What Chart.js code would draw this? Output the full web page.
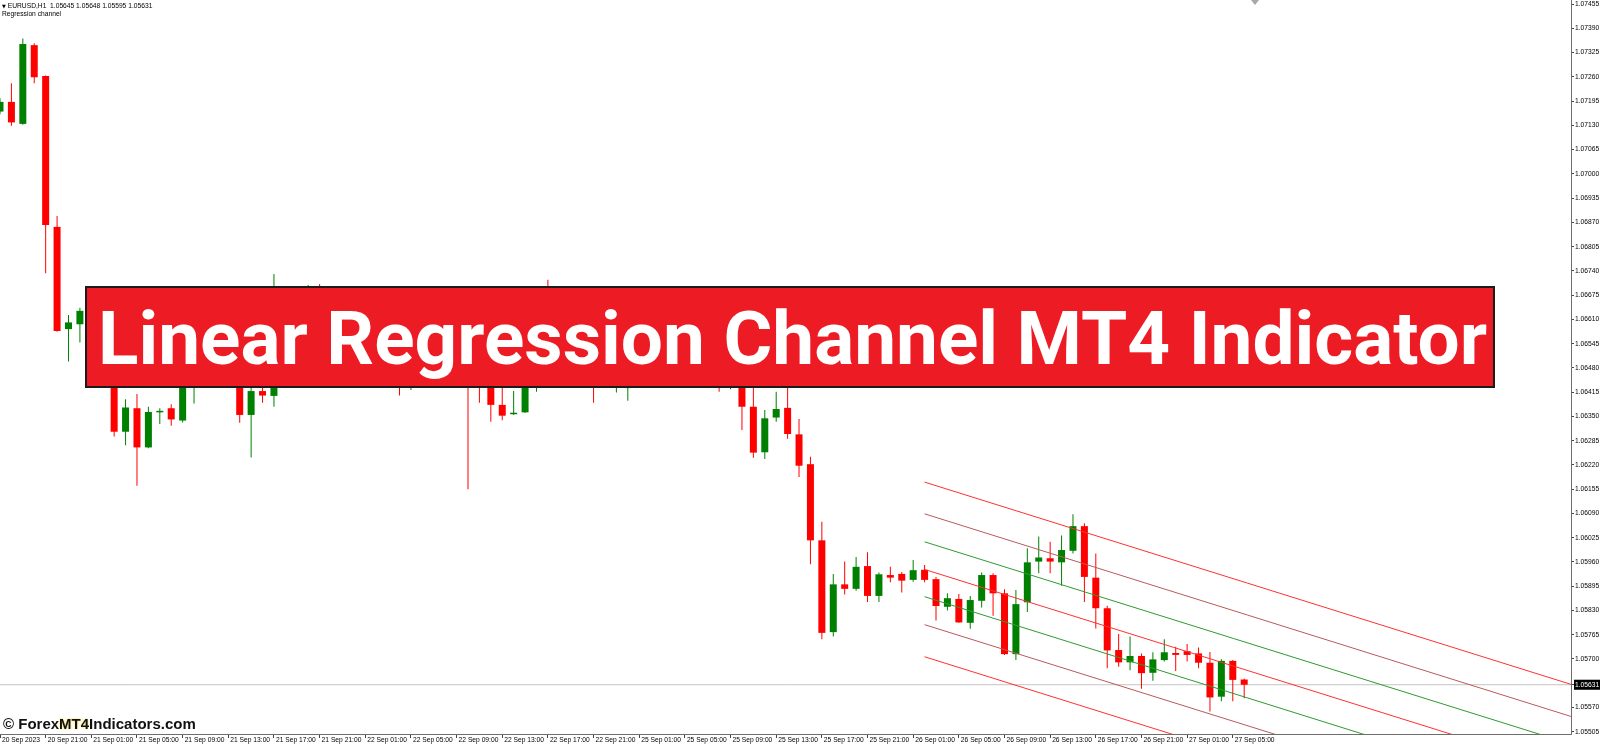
<!DOCTYPE html>
<html><head><meta charset="utf-8">
<script src="https://cdn.jsdelivr.net/npm/chart.js@4.4.1/dist/chart.umd.min.js"></script>
<style>
html,body{margin:0;padding:0;background:#fff;}
#wrap{position:relative;width:1600px;height:745px;overflow:hidden;background:#fff;}
canvas{position:absolute;left:0;top:0;}
.small{position:absolute;font-family:'Liberation Sans',Arial,sans-serif;font-size:6.7px;line-height:10px;color:#000;white-space:pre;}
.tri{font-size:5px;font-family:'DejaVu Sans',sans-serif;}
#banner{position:absolute;left:85px;top:286px;width:1410px;height:102px;box-sizing:border-box;background:#ED1C24;border:2px solid #1b1b1b;}
#svg{position:absolute;left:0;top:0;}
#wm{position:absolute;left:3px;top:716px;font:bold 15px 'Liberation Sans',Arial,sans-serif;line-height:15px;color:#111;white-space:pre;}
#shift{position:absolute;left:1251px;top:0;width:0;height:0;border-left:4px solid transparent;border-right:4px solid transparent;border-top:5px solid #a8a8a8;}
</style></head>
<body><div id="wrap"><canvas id="c" width="1600" height="745"></canvas>
<div id="hdr1" class="small" style="left:2px;top:1px"></div>
<div id="hdr2" class="small" style="left:2px;top:9px"></div>
<div id="shift"></div>
<div id="banner"></div>
<svg id="svg" width="1600" height="745"><text id="bt" x="98" y="364" fill="#fff" font-family="Roboto, 'Liberation Sans', sans-serif" font-weight="700" font-size="70">Linear Regression Channel MT4 Indicator</text></svg>
<div id="wm">© Forex<span style="text-shadow:0 0 3px #f5dc50">MT4</span>Indicators.com</div>
</div>
<script>
// ---- data (H1 bars, index 0 = 20 Sep 2023 17:00) ----
const symbol = 'EURUSD,H1';
const indicatorName = 'Regression channel';
const opens = [1.07167,1.07193,1.07134,1.07345,1.07262,1.06858,1.06584,1.06597,1.06633,1.06555,
1.06474,1.06309,1.06372,1.06267,1.06361,1.06372,1.06339,1.06488,1.06582,1.06541,
1.06608,1.06501,1.06354,1.06418,1.06405,1.06555,1.06515,1.06582,1.06635,1.06582,
1.06541,1.06568,1.06528,1.06555,1.06515,1.06541,1.06488,1.06528,1.06501,1.06541,
1.06501,1.06488,1.06474,1.06461,1.06381,1.06356,1.06361,1.06474,1.06541,1.06501,
1.06541,1.06515,1.06555,1.06488,1.06474,1.06426,1.06474,1.06448,1.06488,1.06461,
1.06501,1.06474,1.06515,1.06488,1.06448,1.06501,1.06376,1.06254,1.06347,1.06373,
1.06302,1.06222,1.06018,1.05772,1.05900,1.05888,1.05949,1.05869,1.05925,1.05928,
1.05912,1.05939,1.05914,1.05840,1.05861,1.05797,1.05856,1.05925,1.05876,1.05713,
1.05852,1.05961,1.05970,1.05959,1.05990,1.06056,1.05918,1.05836,1.05724,1.05691,
1.05708,1.05663,1.05697,1.05716,1.05721,1.05715,1.05690,1.05599,1.05695,1.05645];
const highs = [1.07203,1.07243,1.07363,1.07350,1.07264,1.06887,1.06622,1.06641,1.06662,1.06582,
1.06488,1.06396,1.06410,1.06376,1.06372,1.06383,1.06528,1.06608,1.06622,1.06649,
1.06635,1.06528,1.06426,1.06428,1.06732,1.06608,1.06622,1.06702,1.06705,1.06608,
1.06595,1.06595,1.06582,1.06582,1.06568,1.06568,1.06555,1.06555,1.06582,1.06568,
1.06528,1.06515,1.06501,1.06488,1.06427,1.06418,1.06501,1.06568,1.06716,1.06568,
1.06582,1.06582,1.06582,1.06555,1.06541,1.06501,1.06501,1.06515,1.06528,1.06541,
1.06528,1.06541,1.06555,1.06515,1.06528,1.06528,1.06430,1.06367,1.06416,1.06430,
1.06343,1.06242,1.06068,1.05928,1.05961,1.05973,1.05986,1.05932,1.05947,1.05933,
1.05965,1.05952,1.05920,1.05876,1.05874,1.05869,1.05932,1.05930,1.05887,1.05885,
1.05997,1.06028,1.06014,1.06031,1.06088,1.06064,1.05983,1.05843,1.05767,1.05760,
1.05715,1.05718,1.05753,1.05733,1.05740,1.05731,1.05719,1.05699,1.05697,1.05648];
const lows = [1.07160,1.07129,1.07132,1.07243,1.06734,1.06577,1.06497,1.06548,1.06541,1.06461,
1.06296,1.06273,1.06164,1.06265,1.06330,1.06325,1.06334,1.06385,1.06501,1.06515,
1.06461,1.06333,1.06240,1.06387,1.06376,1.06474,1.06488,1.06555,1.06541,1.06501,
1.06515,1.06488,1.06474,1.06461,1.06448,1.06406,1.06421,1.06461,1.06474,1.06448,
1.06434,1.06155,1.06387,1.06336,1.06340,1.06354,1.06359,1.06416,1.06461,1.06474,
1.06474,1.06488,1.06387,1.06461,1.06414,1.06392,1.06434,1.06434,1.06453,1.06448,
1.06427,1.06454,1.06454,1.06416,1.06423,1.06314,1.06239,1.06236,1.06336,1.06290,
1.06188,1.05954,1.05753,1.05760,1.05873,1.05883,1.05853,1.05853,1.05906,1.05878,
1.05907,1.05906,1.05803,1.05830,1.05797,1.05781,1.05838,1.05816,1.05711,1.05697,
1.05826,1.05930,1.05930,1.05896,1.05983,1.05853,1.05782,1.05675,1.05679,1.05670,
1.05620,1.05642,1.05693,1.05668,1.05693,1.05675,1.05559,1.05587,1.05587,1.05595];
const closes = [1.07193,1.07138,1.07348,1.07259,1.06863,1.06579,1.06602,1.06633,1.06555,1.06488,
1.06309,1.06374,1.06267,1.06362,1.06365,1.06342,1.06501,1.06582,1.06541,1.06608,
1.06515,1.06354,1.06418,1.06406,1.06555,1.06515,1.06582,1.06635,1.06582,1.06541,
1.06568,1.06528,1.06555,1.06515,1.06541,1.06488,1.06528,1.06501,1.06541,1.06501,
1.06474,1.06461,1.06448,1.06381,1.06352,1.06360,1.06474,1.06541,1.06501,1.06541,
1.06515,1.06555,1.06488,1.06528,1.06515,1.06474,1.06448,1.06488,1.06461,1.06501,
1.06474,1.06515,1.06488,1.06461,1.06501,1.06376,1.06253,1.06345,1.06370,1.06303,
1.06218,1.06018,1.05770,1.05900,1.05888,1.05947,1.05869,1.05927,1.05918,1.05910,
1.05938,1.05912,1.05842,1.05863,1.05798,1.05858,1.05925,1.05876,1.05713,1.05847,
1.05959,1.05972,1.05961,1.05992,1.06056,1.05920,1.05836,1.05723,1.05691,1.05708,
1.05662,1.05699,1.05718,1.05711,1.05711,1.05690,1.05597,1.05695,1.05644,1.05631];

const timeTickBars = [0,4,8,12,16,20,24,28,32,36,40,44,48,52,56,60,64,68,72,76,80,84,88,92,96,100,104,108];
const timeTickLabels = ['20 Sep 2023','20 Sep 21:00','21 Sep 01:00','21 Sep 05:00','21 Sep 09:00','21 Sep 13:00','21 Sep 17:00','21 Sep 21:00',
'22 Sep 01:00','22 Sep 05:00','22 Sep 09:00','22 Sep 13:00','22 Sep 17:00','22 Sep 21:00','25 Sep 01:00','25 Sep 05:00','25 Sep 09:00',
'25 Sep 13:00','25 Sep 17:00','25 Sep 21:00','26 Sep 01:00','26 Sep 05:00','26 Sep 09:00','26 Sep 13:00','26 Sep 17:00','26 Sep 21:00',
'27 Sep 01:00','27 Sep 05:00'];
const priceTicks = [1.07455,1.07390,1.07325,1.07260,1.07195,1.07130,1.07065,1.07000,1.06935,1.06870,1.06805,1.06740,1.06675,
1.06610,1.06545,1.06480,1.06415,1.06350,1.06285,1.06220,1.06155,1.06090,1.06025,1.05960,1.05895,1.05830,1.05765,1.05700,1.05570,1.05505];

// regression channel (start bar, right edge) and price at each end
const regBars   = [81, 137.63];
const regUpper3 = [1.06174, 1.05632];
const regUpper2 = [1.06089, 1.05546];
const regUpper1 = [1.06014, 1.05472];
const regMid    = [1.05940, 1.05398];
const regLower1 = [1.05867, 1.05324];
const regLower2 = [1.05792, 1.05250];
const regLower3 = [1.05706, 1.05164];

// visible window
const xMin = 0, xMax = 137.63;
const yMin = 1.05499, yMax = 1.07466;

// ---- build ----
const FONT = "'Liberation Sans',Arial,sans-serif";
const FSIZE = 6.7;
const n = closes.length;
const lastClose = closes[n-1];
document.getElementById('hdr1').innerHTML = '<span class="tri">▼</span> ' + symbol + '  ' +
  [opens[n-1], highs[n-1], lows[n-1], closes[n-1]].map(v => v.toFixed(5)).join(' ');
document.getElementById('hdr2').textContent = indicatorName;

const bull = '#008000', bear = '#ff0000';
const cols = closes.map((c,i) => c >= opens[i] ? bull : bear);
const bodies = closes.map((c,i) => ({x:i, y:[opens[i], c]}));
const wicks = closes.map((c,i) => ({x:i, y:[lows[i], highs[i]]}));
const RED = '#ff3030', BROWN = '#b85a5a', GREEN = '#2f9a2f';
function seg(vals, color){
  return {type:'line', data: regBars.map((b,k)=>({x:b, y:vals[k]})), borderColor:color, borderWidth:1,
          pointRadius:0, fill:false, tension:0};
}
const tickLabelMap = {};
timeTickBars.forEach((b,k)=> tickLabelMap[b] = timeTickLabels[k]);

new Chart(document.getElementById('c'), {
  type:'bar',
  data:{ datasets:[
    seg(regUpper3, RED), seg(regUpper2, BROWN), seg(regUpper1, GREEN), seg(regMid, RED),
    seg(regLower1, GREEN), seg(regLower2, BROWN), seg(regLower3, RED),
    {type:'bar', data:bodies, backgroundColor:cols, barThickness:7, minBarLength:1, grouped:false, borderWidth:0, inflateAmount:0},
    {type:'bar', data:wicks, backgroundColor:cols, barThickness:1, grouped:false, borderWidth:0, inflateAmount:0},
    {type:'line', data:[{x:xMin,y:lastClose},{x:xMax,y:lastClose}], borderColor:'#c4c4c4', borderWidth:1, pointRadius:0}
  ]},
  options:{
    responsive:false, animation:false, events:[],
    layout:{padding:0},
    plugins:{legend:{display:false}, tooltip:{enabled:false}, title:{display:false}},
    scales:{
      x:{ type:'linear', min:xMin, max:xMax, offset:false,
        grid:{display:true, drawOnChartArea:false, drawTicks:true, tickLength:4, color:'#444', tickColor:'#444', offset:false},
        border:{display:true, color:'#6e6e6e', width:1},
        ticks:{ autoSkip:false, maxRotation:0, minRotation:0, align:'start', labelOffset:2, padding:-2,
          font:{family:FONT, size:FSIZE}, color:'#000', callback:(v)=> tickLabelMap[v] ?? '' },
        afterBuildTicks:(s)=>{ s.ticks = timeTickBars.map(v=>({value:v})); },
        afterFit:(s)=>{ s.height = 11; s.paddingLeft = 0; s.paddingRight = 0; }
      },
      y:{ type:'linear', position:'right', min:yMin, max:yMax,
        grid:{display:true, drawOnChartArea:false, drawTicks:true, tickLength:3, color:'#444', tickColor:'#444'},
        border:{display:true, color:'#6e6e6e', width:1},
        ticks:{ autoSkip:false, padding:1, font:{family:FONT, size:FSIZE},
          color:(ctx)=> (ctx.tick && ctx.tick.value === lastClose) ? '#fff' : '#000',
          showLabelBackdrop:(ctx)=> !!(ctx.tick && ctx.tick.value === lastClose),
          backdropColor:'#000', backdropPadding:{left:1,right:3,top:1,bottom:1},
          callback:(v)=> Number(v).toFixed(5) },
        afterBuildTicks:(s)=>{ s.ticks = priceTicks.concat([lastClose]).sort((a,b)=>a-b).map(v=>({value:v})); },
        afterFit:(s)=>{ s.width = 29; s.paddingTop = 0; s.paddingBottom = 0; }
      }
    }
  }
});

function fitBanner(){
  const bt = document.getElementById('bt');
  bt.setAttribute('font-size', 70);
  const L = bt.getComputedTextLength();
  if (L > 0) bt.setAttribute('font-size', (70*1389/L).toFixed(2));
}
fitBanner();
if (document.fonts && document.fonts.ready) document.fonts.ready.then(fitBanner);
</script>
</body></html>
